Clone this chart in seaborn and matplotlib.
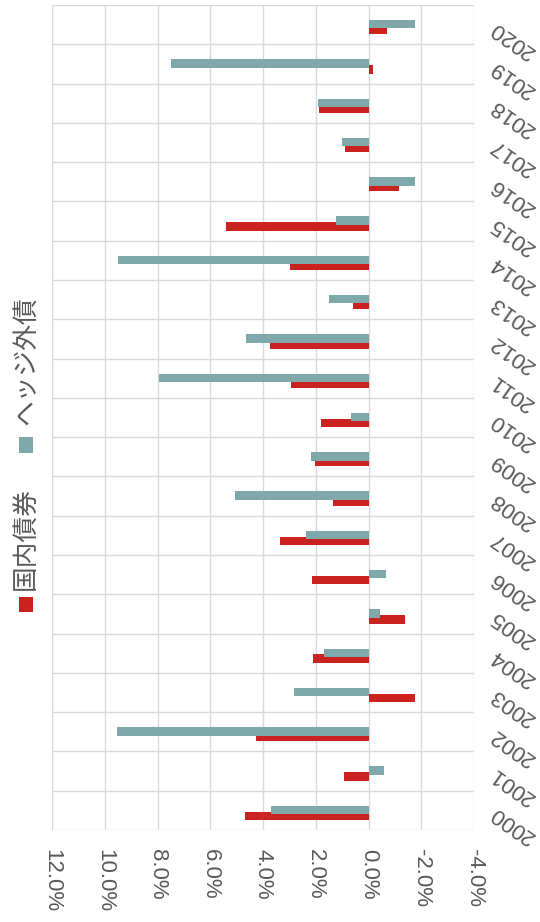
import matplotlib
matplotlib.use("Agg")
import matplotlib.pyplot as plt
import seaborn as sns
import pandas as pd
import numpy as np
from matplotlib.patches import Rectangle
from matplotlib.ticker import FuncFormatter, FixedLocator

years = [str(y) for y in range(2000, 2021)]
domestic = [4.69, 0.94, 4.26, -1.75, 2.09, -1.39, 2.16, 3.35, 1.34, 2.02, 1.80,
            2.93, 3.72, 0.57, 2.97, 5.42, -1.15, 0.90, 1.89, -0.18, -0.70]
hedged = [3.68, -0.58, 9.54, 2.82, 1.70, -0.43, -0.67, 2.36, 5.07, 2.19, 0.67,
          7.96, 4.64, 1.50, 9.49, 1.25, -1.75, 1.01, 1.90, 7.50, -1.75]
series_names = ["国内債券", "ヘッジ外債"]
colors = {"国内債券": "#C9221F", "ヘッジ外債": "#7FA8AB"}
value_ticks = [12, 10, 8, 6, 4, 2, 0, -2, -4]

df = pd.DataFrame({
    "year": years * 2,
    "value": domestic + hedged,
    "series": [series_names[0]] * len(years) + [series_names[1]] * len(years),
})

sns.set_theme(style="white")
plt.rcParams["font.family"] = ["Liberation Sans", "Noto Sans CJK JP", "DejaVu Sans"]

fig = plt.figure(figsize=(5.4, 9.22), dpi=100)
ax = fig.add_axes([52 / 540, (922 - 830) / 922, (474 - 52) / 540, (830 - 5) / 922])

order = years[::-1]
sns.barplot(data=df, x="value", y="year", hue="series", order=order,
            hue_order=[series_names[1], series_names[0]], palette=colors,
            orient="h", width=0.43, dodge=True, ax=ax, legend=False,
            saturation=1, linewidth=0)

# small offsets to mimic the overlapping pair layout
for p in ax.patches:
    fc = matplotlib.colors.to_hex(p.get_facecolor())
    if fc.lower() == colors["ヘッジ外債"].lower():
        p.set_y(p.get_y() + 0.095)
        p.set_zorder(3)
    else:
        p.set_y(p.get_y() + 0.03)
        p.set_zorder(2)

ax.set_xlim(12, -4)
ax.set_ylim(len(years) - 0.5, -0.5)
ax.xaxis.set_major_locator(FixedLocator(value_ticks))
ax.xaxis.set_major_formatter(FuncFormatter(lambda v, _: f"{v:.1f}%"))
ax.set_yticks(np.arange(len(years)))
ax.set_yticks(np.arange(len(years) + 1) - 0.5, minor=True)
ax.set_xlabel("")
ax.set_ylabel("")

ax.grid(True, axis="x", which="major", color="#D9D9D9", linewidth=1.0, zorder=0)
ax.grid(True, axis="y", which="minor", color="#D9D9D9", linewidth=1.0, zorder=0)
ax.grid(False, axis="y", which="major")
ax.set_axisbelow(True)
for s in ax.spines.values():
    s.set_visible(False)

ax.yaxis.tick_right()
ax.tick_params(axis="y", which="both", length=0, pad=13, labelsize=16, labelcolor="#595959")
ax.tick_params(axis="x", which="both", length=0, pad=14, labelsize=16, labelcolor="#595959")
plt.setp(ax.get_xticklabels(), rotation=-90, ha="center", va="top")
plt.setp(ax.get_yticklabels(), rotation=145, ha="right", va="center", rotation_mode="anchor")

# rotated legend on the left
leg_font = ["Noto Sans CJK JP", "DejaVu Sans"]
for name, sq_y, txt_y in [("国内債券", 604.5, 590), ("ヘッジ外債", 445, 425)]:
    fig.patches.append(Rectangle((19 / 540, (922 - sq_y - 7.5) / 922), 14 / 540, 15 / 922,
                                 transform=fig.transFigure, facecolor=colors[name],
                                 edgecolor="none"))
    fig.text(26 / 540, (922 - txt_y) / 922, name, rotation=90, ha="center", va="bottom",
             fontsize=18.5, color="#595959", family=leg_font)

fig.savefig("out.png", dpi=100)
